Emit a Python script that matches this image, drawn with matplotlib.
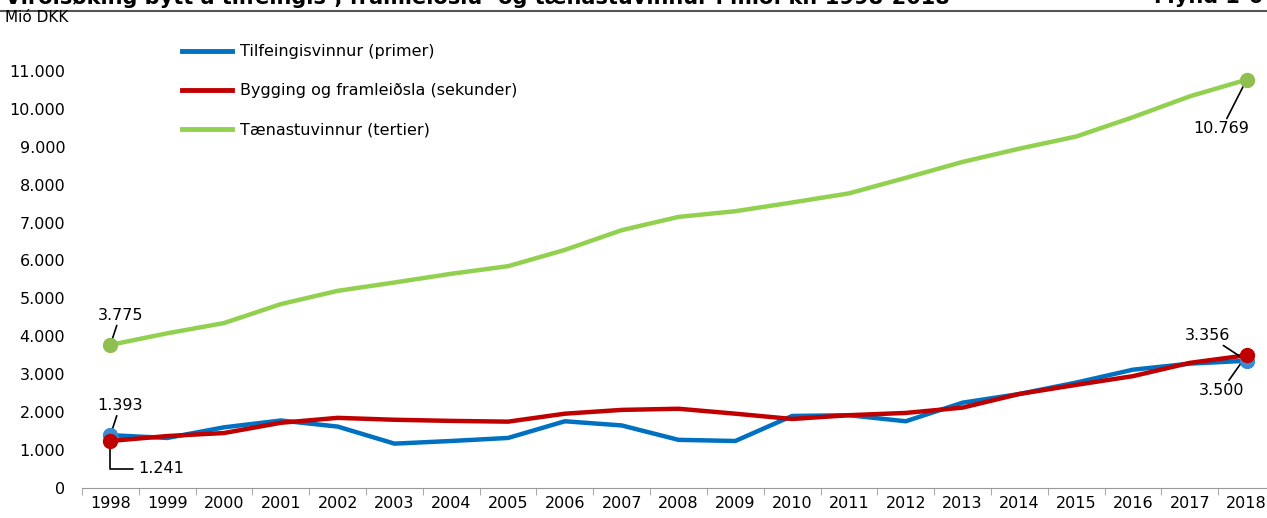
import matplotlib.pyplot as plt
from matplotlib.lines import Line2D

years = [str(y) for y in range(1998, 2019)]
primer = [1393, 1320, 1600, 1780, 1620, 1170, 1240, 1320, 1760, 1650, 1270,
          1240, 1900, 1920, 1760, 2250, 2480, 2780, 3120, 3280, 3356]
sekunder = [1241, 1370, 1450, 1720, 1850, 1800, 1770, 1750, 1960, 2060, 2090,
            1960, 1820, 1920, 1980, 2120, 2480, 2720, 2950, 3300, 3500]
tertier = [3775, 4080, 4350, 4850, 5200, 5420, 5650, 5850, 6280, 6800, 7150,
           7300, 7530, 7770, 8180, 8600, 8950, 9270, 9780, 10330, 10769]
labels = ['Tilfeingisvinnur (primer)', 'Bygging og framleiðsla (sekunder)',
          'Tænastuvinnur (tertier)']

def fmt(v):
    return f'{v:,.0f}'.replace(',', '.')

plt.rcParams['font.family'] = 'DejaVu Sans'
fig = plt.figure(figsize=(12.67, 5.18), dpi=100)
ax = fig.add_axes([82 / 1267, 30 / 518, 1193 / 1267, 455 / 518])
x = list(range(len(years)))

c_blue, c_red, c_green = '#0070c0', '#c00000', '#92d050'
ax.plot(x, primer, color=c_blue, lw=3.2, solid_joinstyle='round')
ax.plot(x, sekunder, color=c_red, lw=3.2, solid_joinstyle='round')
ax.plot(x, tertier, color=c_green, lw=3.2, solid_joinstyle='round')

for ser, mc in [(primer, '#3a8ad6'), (sekunder, c_red), (tertier, '#8fbf50')]:
    ax.plot([x[0], x[-1]], [ser[0], ser[-1]], 'o', color=mc, ms=10, zorder=5)

ax.set_xlim(-0.5, 20.5)
ax.set_ylim(0, 12000)
ax.set_yticks(range(0, 12000, 1000))
ax.set_yticklabels([fmt(v) for v in range(0, 12000, 1000)])
ax.set_xticks(x)
ax.set_xticklabels(years)
ax.set_xticks([i - 0.5 for i in range(len(years) + 1)], minor=True)
ax.tick_params(axis='x', which='major', length=0, labelsize=11.5, pad=6)
ax.tick_params(axis='x', which='minor', length=5, color='#999999')
ax.tick_params(axis='y', length=0, labelsize=11.5, pad=12)
for s in ['top', 'right', 'left']:
    ax.spines[s].set_visible(False)
ax.spines['bottom'].set_color('#999999')

ann = dict(fontsize=11.5, textcoords='offset points',
           arrowprops=dict(arrowstyle='-', color='black', lw=1.2, shrinkA=0, shrinkB=0))
ax.annotate(fmt(tertier[0]), xy=(x[0], tertier[0]), xytext=(7, 16),
            ha='center', va='bottom', **ann)
ax.annotate(fmt(primer[0]), xy=(x[0], primer[0]), xytext=(7, 16),
            ha='center', va='bottom', **ann)
ax.annotate(fmt(sekunder[0]), xy=(x[0], sekunder[0]), xytext=(20, -20),
            ha='left', va='center', fontsize=11.5, textcoords='offset points',
            arrowprops=dict(arrowstyle='-', color='black', lw=1.2, shrinkA=2, shrinkB=0,
                            connectionstyle='angle,angleA=0,angleB=90,rad=0'))
ax.annotate(fmt(primer[-1]), xy=(x[-1], primer[-1]), xytext=(-28, 13),
            ha='center', va='bottom', **ann)
ax.annotate(fmt(sekunder[-1]), xy=(x[-1], sekunder[-1]), xytext=(-18, -20),
            ha='center', va='top', **ann)
ax.annotate(fmt(tertier[-1]), xy=(x[-1], tertier[-1]), xytext=(-18, -30),
            ha='center', va='top', **ann)

handles = [Line2D([], [], color=c, lw=3.5) for c in (c_blue, c_red, c_green)]
fig.legend(handles, labels, loc='upper left', bbox_to_anchor=(168 / 1267, 1 - 30 / 518),
           frameon=False, fontsize=11.5, handlelength=3.1, labelspacing=1.5,
           handletextpad=0.5)

fig.text(0.004, 1 - 18 / 518, 'Mió DKK', fontsize=11, va='center', ha='left')
fig.text(0.004, 1 + 3 / 518, 'Virðisøking bytt á tilfeingis-, framleiðslu- og tænastuvinnur í mió. kr. 1998-2018',
         fontsize=15, fontweight='bold', va='center', ha='left')
fig.text(0.997, 1 + 3 / 518, 'Mynd 1-6', fontsize=15, fontweight='bold', va='center', ha='right')
fig.add_artist(Line2D([0, 1], [1 - 11 / 518, 1 - 11 / 518], color='#555555', lw=1.5,
                      transform=fig.transFigure))

fig.savefig('out.png', dpi=100)
